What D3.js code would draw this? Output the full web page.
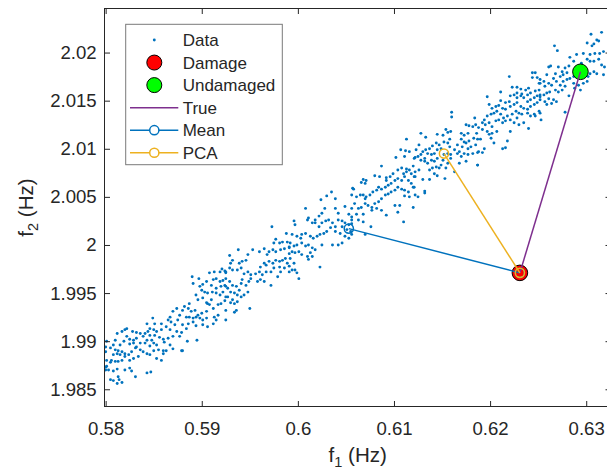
<!DOCTYPE html>
<html>
<head>
<meta charset="utf-8">
<script src="https://cdn.jsdelivr.net/npm/d3@7/dist/d3.min.js"></script>
<style>
  body { margin: 0; background: #fff; }
  text { font-family: "Liberation Sans", Arial, Helvetica, sans-serif; fill: #262626; }
</style>
</head>
<body>
<script>
var f1Data = [
  0.5849,0.5843,0.5851,0.5858,0.5846,0.5850,0.5844,0.5853,0.5858,0.5841,0.5846,0.5851,0.5856,0.5860,0.5836,0.5832,0.5828,0.5822,0.5820,0.5817,0.5812,0.5822,0.5825,0.5829,0.5832,0.5839,0.5843,0.5848,0.5850,0.5853,0.5855,0.5860,0.5846,0.5841,0.5836,0.5829,0.5825,0.5819,0.5815,0.5810,0.5808,0.5801,0.5800,0.5805,0.5810,0.5813,0.5817,0.5820,0.5824,0.5827,0.5831,0.5832,0.5836,0.5839,0.5843,0.5850,0.5846,0.5834,0.5829,0.5825,0.5820,0.5815,0.5812,0.5808,0.5806,0.5805,0.5810,0.5813,0.5817,0.5801,0.5800,0.5803,0.5808,0.5812,0.5820,0.5825,0.5827,0.5831,0.5813,0.5814,0.5817,0.5812,0.5808,0.5805,0.5801,0.5858,0.5853,0.5860,0.5843,0.5847,0.5800,0.5800,
  0.5921,0.5924,0.5919,0.5925,0.5913,0.5908,0.5912,0.5915,0.5919,0.5922,0.5925,0.5924,0.5920,0.5915,0.5910,0.5905,0.5901,0.5898,0.5897,0.5890,0.5891,0.5894,0.5900,0.5903,0.5906,0.5911,0.5915,0.5919,0.5922,0.5925,0.5924,0.5920,0.5917,0.5912,0.5908,0.5906,0.5910,0.5905,0.5900,0.5896,0.5893,0.5889,0.5886,0.5882,0.5880,0.5884,0.5887,0.5891,0.5894,0.5898,0.5901,0.5905,0.5913,0.5912,0.5915,0.5906,0.5901,0.5894,0.5891,0.5886,0.5880,0.5877,0.5875,0.5874,0.5870,0.5867,0.5865,0.5868,0.5872,0.5863,0.5867,0.5874,0.5879,0.5884,0.5877,0.5870,0.5865,0.5861,0.5867,0.5863,0.5870,0.5879,0.5880,0.5885,0.5895,0.5905,0.5901,0.5896,0.5887,0.5925,0.5925,0.5917,
  0.5973,0.5988,0.5977,0.5975,0.5981,0.5984,0.5989,0.5991,0.5986,0.5982,0.5977,0.5974,0.5970,0.5968,0.5965,0.5960,0.5953,0.5948,0.5946,0.5942,0.5939,0.5938,0.5929,0.5932,0.5930,0.5929,0.5925,0.5932,0.5937,0.5941,0.5944,0.5948,0.5951,0.5956,0.5960,0.5961,0.5965,0.5967,0.5970,0.5974,0.5977,0.5981,0.5984,0.5987,0.5991,0.5989,0.5986,0.5991,0.5981,0.5975,0.5972,0.5967,0.5963,0.5961,0.5965,0.5958,0.5951,0.5949,0.5946,0.5942,0.5941,0.5939,0.5936,0.5932,0.5929,0.5927,0.5925,0.5930,0.5934,0.5937,0.5941,0.5944,0.5948,0.5932,0.5930,0.5934,0.5937,0.5927,0.5950,0.5934,0.5936,0.5972,0.5979,0.5982,
  0.6057,0.6056,0.6035,0.6030,0.6024,0.6039,0.6028,0.6025,0.6022,0.6018,0.6008,0.5996,0.5997,0.6010,0.6011,0.6015,0.6018,0.6022,0.6025,0.6029,0.6032,0.6036,0.6039,0.6042,0.6046,0.6049,0.6053,0.6056,0.6055,0.6051,0.6046,0.6044,0.6039,0.6034,0.6030,0.6027,0.6023,0.6020,0.6016,0.6013,0.6008,0.6004,0.6003,0.5999,0.5994,0.5992,0.5996,0.5999,0.6004,0.6008,0.6011,0.6015,0.6018,0.6025,0.6036,0.6042,0.6046,0.6049,0.6053,0.6056,0.6039,0.6049,0.6053,0.6042,0.5991,0.5994,0.5997,0.6001,0.6004,0.6010,0.6013,0.6015,0.6011,0.5992,0.5996,0.5991,0.5997,0.5999,0.6001,0.5994,0.6023,
  0.6113,0.6107,0.6112,0.6116,0.6122,0.6102,0.6111,0.6087,0.6108,0.6113,0.6116,0.6120,0.6122,0.6118,0.6113,0.6110,0.6104,0.6099,0.6096,0.6092,0.6085,0.6080,0.6068,0.6066,0.6070,0.6071,0.6058,0.6061,0.6065,0.6068,0.6070,0.6071,0.6075,0.6078,0.6082,0.6084,0.6087,0.6091,0.6092,0.6094,0.6097,0.6101,0.6104,0.6108,0.6111,0.6115,0.6118,0.6122,0.6120,0.6115,0.6111,0.6108,0.6104,0.6101,0.6097,0.6094,0.6091,0.6087,0.6084,0.6080,0.6077,0.6073,0.6070,0.6066,0.6063,0.6059,0.6056,0.6061,0.6068,0.6077,0.6082,0.6087,0.6092,0.6101,0.6106,0.6104,0.6110,0.6111,0.6116,0.6120,0.6122,0.6056,0.6068,0.6076,0.6070,0.6056,0.6063,
  0.6160,0.6160,0.6184,0.6175,0.6178,0.6182,0.6185,0.6154,0.6156,0.6159,0.6128,0.6133,0.6145,0.6151,0.6170,0.6173,0.6177,0.6158,0.6170,0.6173,0.6175,0.6178,0.6183,0.6186,0.6166,0.6171,0.6177,0.6180,0.6185,0.6187,0.6182,0.6177,0.6173,0.6168,0.6163,0.6158,0.6156,0.6152,0.6147,0.6144,0.6140,0.6137,0.6133,0.6130,0.6126,0.6123,0.6125,0.6121,0.6128,0.6132,0.6135,0.6139,0.6142,0.6145,0.6149,0.6152,0.6156,0.6159,0.6156,0.6151,0.6149,0.6145,0.6142,0.6139,0.6135,0.6132,0.6128,0.6126,0.6137,0.6140,0.6144,0.6147,0.6154,0.6163,0.6168,0.6175,0.6187,0.6159,0.6121,0.6130,0.6137,0.6145,0.6153,0.6121,0.6132,0.6132,0.6125,0.6166,0.6170,0.6142,
  0.6244,0.6220,0.6247,0.6249,0.6244,0.6252,0.6251,0.6223,0.6232,0.6237,0.6240,0.6211,0.6228,0.6233,0.6239,0.6242,0.6247,0.6251,0.6252,0.6249,0.6246,0.6242,0.6239,0.6235,0.6232,0.6228,0.6225,0.6221,0.6220,0.6216,0.6211,0.6197,0.6199,0.6202,0.6206,0.6209,0.6213,0.6216,0.6221,0.6225,0.6228,0.6232,0.6235,0.6239,0.6242,0.6246,0.6249,0.6252,0.6251,0.6246,0.6242,0.6239,0.6233,0.6230,0.6227,0.6223,0.6218,0.6214,0.6211,0.6207,0.6204,0.6201,0.6197,0.6194,0.6192,0.6195,0.6199,0.6202,0.6206,0.6209,0.6213,0.6216,0.6221,0.6225,0.6230,0.6235,0.6228,0.6240,0.6247,0.6252,0.6188,0.6192,0.6197,0.6202,0.6207,0.6201,0.6204,0.6199,0.6190,0.6187,0.6188,0.6192,0.6194,0.6213,0.6216,0.6218,0.6221,0.6187,0.6228,
  0.6305,0.6316,0.6311,0.6313,0.6301,0.6306,0.6308,0.6267,0.6270,0.6283,0.6297,0.6304,0.6309,0.6314,0.6318,0.6290,0.6301,0.6304,0.6308,0.6313,0.6316,0.6319,0.6295,0.6287,0.6282,0.6263,0.6261,0.6271,0.6275,0.6276,0.6280,0.6278,0.6273,0.6268,0.6266,0.6259,0.6256,0.6252,0.6257,0.6261,0.6264,0.6269,0.6273,0.6276,0.6280,0.6283,0.6287,0.6302,0.6304,0.6308,0.6311,0.6318,0.6297,0.6292,0.6294,0.6288,0.6287,0.6278,0.6275,0.6271,0.6268,0.6262,0.6259,0.6256,0.6252,0.6261,0.6266,0.6257,0.6259,0.6264,0.6269,0.6282,0.6301,0.6278,0.6253
];
var f2Data = [
  1.9924,1.9918,1.9918,1.9918,1.9913,1.9912,1.9910,1.9910,1.9912,1.9908,1.9906,1.9906,1.9904,1.9902,1.9908,1.9909,1.9910,1.9913,1.9912,1.9910,1.9908,1.9905,1.9902,1.9901,1.9903,1.9905,1.9901,1.9901,1.9898,1.9896,1.9891,1.9890,1.9895,1.9898,1.9898,1.9898,1.9897,1.9900,1.9896,1.9901,1.9896,1.9900,1.9894,1.9893,1.9891,1.9890,1.9889,1.9887,1.9886,1.9889,1.9893,1.9894,1.9891,1.9889,1.9887,1.9890,1.9886,1.9884,1.9882,1.9880,1.9884,1.9886,1.9887,1.9886,1.9880,1.9878,1.9879,1.9879,1.9880,1.9880,1.9873,1.9870,1.9869,1.9871,1.9870,1.9872,1.9869,1.9863,1.9863,1.9860,1.9857,1.9856,1.9859,1.9860,1.9874,1.9880,1.9882,1.9887,1.9867,1.9868,1.9889,1.9870,
  1.9975,1.9973,1.9972,1.9971,1.9972,1.9971,1.9964,1.9965,1.9962,1.9963,1.9965,1.9958,1.9957,1.9955,1.9958,1.9962,1.9959,1.9957,1.9965,1.9967,1.9960,1.9948,1.9953,1.9951,1.9950,1.9951,1.9950,1.9948,1.9951,1.9946,1.9942,1.9939,1.9938,1.9934,1.9938,1.9939,1.9943,1.9931,1.9929,1.9927,1.9932,1.9931,1.9934,1.9936,1.9932,1.9925,1.9925,1.9924,1.9925,1.9924,1.9922,1.9924,1.9925,1.9918,1.9922,1.9915,1.9917,1.9916,1.9920,1.9918,1.9917,1.9927,1.9922,1.9934,1.9931,1.9925,1.9922,1.9920,1.9917,1.9915,1.9912,1.9910,1.9909,1.9913,1.9905,1.9905,1.9903,1.9899,1.9896,1.9890,1.9892,1.9890,1.9890,1.9900,1.9901,1.9940,1.9945,1.9943,1.9939,1.9932,1.9922,1.9927,
  2.0019,2.0012,2.0006,2.0002,2.0002,2.0003,2.0003,1.9998,1.9996,1.9995,1.9993,1.9995,1.9993,1.9990,1.9996,1.9993,1.9995,1.9990,1.9984,1.9983,1.9981,1.9995,1.9989,1.9984,1.9981,1.9976,1.9972,1.9974,1.9974,1.9976,1.9970,1.9972,1.9969,1.9970,1.9972,1.9977,1.9981,1.9979,1.9983,1.9981,1.9984,1.9983,1.9984,1.9986,1.9991,1.9981,1.9976,1.9972,1.9977,1.9976,1.9972,1.9972,1.9969,1.9964,1.9962,1.9962,1.9965,1.9962,1.9958,1.9964,1.9960,1.9953,1.9957,1.9958,1.9962,1.9955,1.9957,1.9951,1.9950,1.9948,1.9946,1.9948,1.9951,1.9943,1.9940,1.9939,1.9941,1.9946,1.9934,1.9930,1.9932,1.9958,1.9967,1.9972,
  2.0059,2.0052,2.0055,2.0051,2.0047,2.0048,2.0038,2.0033,2.0030,2.0026,2.0038,2.0025,2.0021,2.0026,2.0028,2.0023,2.0023,2.0019,2.0023,2.0025,2.0026,2.0023,2.0019,2.0026,2.0025,2.0023,2.0021,2.0026,2.0014,2.0016,2.0019,2.0012,2.0014,2.0018,2.0014,2.0012,2.0011,2.0009,2.0007,2.0009,2.0012,2.0011,2.0007,2.0009,2.0011,2.0002,1.9999,2.0000,2.0002,1.9999,2.0000,1.9997,1.9995,2.0000,2.0000,2.0000,2.0002,2.0009,2.0007,2.0011,2.0038,2.0040,2.0032,2.0033,1.9997,1.9993,1.9992,1.9993,1.9990,1.9988,1.9992,1.9988,1.9985,1.9986,1.9981,1.9978,1.9974,1.9971,1.9965,1.9974,1.9977,
  2.0110,2.0099,2.0098,2.0097,2.0091,2.0091,2.0092,2.0082,2.0080,2.0079,2.0078,2.0082,2.0076,2.0074,2.0076,2.0074,2.0078,2.0074,2.0071,2.0070,2.0071,2.0072,2.0068,2.0065,2.0064,2.0067,2.0058,2.0050,2.0052,2.0052,2.0048,2.0050,2.0052,2.0055,2.0057,2.0060,2.0058,2.0060,2.0067,2.0062,2.0064,2.0067,2.0069,2.0067,2.0071,2.0067,2.0064,2.0071,2.0060,2.0055,2.0057,2.0058,2.0060,2.0057,2.0055,2.0053,2.0052,2.0048,2.0045,2.0043,2.0039,2.0041,2.0043,2.0039,2.0038,2.0043,2.0038,2.0032,2.0032,2.0036,2.0038,2.0036,2.0031,2.0041,2.0041,2.0034,2.0024,2.0051,2.0050,2.0039,2.0052,2.0022,2.0024,2.0019,2.0011,2.0029,2.0026,
  2.0138,2.0133,2.0132,2.0125,2.0124,2.0123,2.0125,2.0120,2.0117,2.0118,2.0116,2.0112,2.0115,2.0114,2.0116,2.0114,2.0116,2.0110,2.0110,2.0107,2.0106,2.0108,2.0111,2.0116,2.0104,2.0102,2.0100,2.0102,2.0104,2.0096,2.0095,2.0094,2.0095,2.0097,2.0099,2.0102,2.0106,2.0107,2.0104,2.0106,2.0103,2.0100,2.0099,2.0097,2.0104,2.0099,2.0092,2.0090,2.0094,2.0090,2.0095,2.0094,2.0095,2.0099,2.0100,2.0094,2.0095,2.0090,2.0085,2.0088,2.0083,2.0090,2.0087,2.0088,2.0085,2.0087,2.0088,2.0078,2.0078,2.0080,2.0081,2.0080,2.0080,2.0076,2.0085,2.0087,2.0083,2.0094,2.0071,2.0068,2.0068,2.0072,2.0069,2.0060,2.0056,2.0054,2.0050,2.0095,2.0092,2.0074,
  2.0179,2.0175,2.0179,2.0174,2.0174,2.0172,2.0168,2.0164,2.0162,2.0161,2.0163,2.0159,2.0158,2.0157,2.0156,2.0158,2.0160,2.0161,2.0156,2.0155,2.0153,2.0151,2.0149,2.0153,2.0155,2.0153,2.0156,2.0155,2.0149,2.0148,2.0150,2.0154,2.0146,2.0142,2.0144,2.0145,2.0142,2.0141,2.0144,2.0146,2.0148,2.0144,2.0142,2.0141,2.0144,2.0146,2.0148,2.0151,2.0139,2.0136,2.0134,2.0137,2.0136,2.0137,2.0139,2.0136,2.0134,2.0132,2.0136,2.0139,2.0137,2.0136,2.0134,2.0130,2.0127,2.0125,2.0127,2.0123,2.0129,2.0130,2.0127,2.0129,2.0130,2.0127,2.0125,2.0127,2.0132,2.0121,2.0134,2.0137,2.0122,2.0120,2.0118,2.0116,2.0118,2.0111,2.0106,2.0115,2.0110,2.0110,2.0097,2.0096,2.0100,2.0100,2.0101,2.0108,2.0118,2.0083,2.0164,
  2.0219,2.0221,2.0213,2.0212,2.0210,2.0207,2.0209,2.0207,2.0202,2.0195,2.0199,2.0198,2.0199,2.0199,2.0201,2.0198,2.0193,2.0191,2.0191,2.0193,2.0187,2.0185,2.0189,2.0191,2.0186,2.0186,2.0185,2.0185,2.0180,2.0177,2.0179,2.0184,2.0175,2.0178,2.0173,2.0177,2.0170,2.0168,2.0165,2.0168,2.0166,2.0170,2.0166,2.0170,2.0172,2.0173,2.0175,2.0175,2.0178,2.0180,2.0178,2.0177,2.0168,2.0166,2.0161,2.0163,2.0168,2.0165,2.0161,2.0159,2.0161,2.0159,2.0158,2.0156,2.0154,2.0152,2.0151,2.0149,2.0146,2.0147,2.0149,2.0155,2.0170,2.0138,2.0130
];

// reference states and estimates [f1, f2]
var damagePt = [0.6231, 1.9971];
var undamagedPt = [0.6294, 2.0180];
var meanPt = [0.6053, 2.0017];
var pcaPt = [0.6152, 2.0095];

var xTicks = [0.58, 0.59, 0.6, 0.61, 0.62, 0.63];
var yTicks = [1.985, 1.99, 1.995, 2, 2.005, 2.01, 2.015, 2.02];
var legendLabels = ["Data", "Damage", "Undamaged", "True", "Mean", "PCA"];

var blue = "#0072BD", yellow = "#EDB120", purple = "#7E2F8E";
var width = 607, height = 470;
var box = { left: 104.5, top: 8.5, right: 611, bottom: 406.5 };
var tickLen = 5.5;

var svg = d3.select("body").append("svg").attr("width", width).attr("height", height);

var x = d3.scaleLinear().domain([0.57988, 0.63258]).range([box.left, box.right]);
var y = d3.scaleLinear().domain([1.98321, 2.02458]).range([box.bottom, box.top]);
var fmt = d3.format("~g");

svg.append("defs").append("clipPath").attr("id", "plotclip")
    .append("rect").attr("x", box.left).attr("y", box.top)
    .attr("width", box.right - box.left).attr("height", box.bottom - box.top);

var plot = svg.append("g").attr("clip-path", "url(#plotclip)");

// scatter of measurements
plot.selectAll("circle.pt").data(d3.range(f1Data.length)).enter().append("circle")
    .attr("class", "pt")
    .attr("cx", function (i) { return x(f1Data[i]); })
    .attr("cy", function (i) { return y(f2Data[i]); })
    .attr("r", 1.45)
    .style("fill", blue);

// big markers
plot.append("circle").attr("cx", x(damagePt[0])).attr("cy", y(damagePt[1])).attr("r", 7.8)
    .style("fill", "#ff0000").style("stroke", "#000").style("stroke-width", 1);
plot.append("circle").attr("cx", x(undamagedPt[0])).attr("cy", y(undamagedPt[1])).attr("r", 7.8)
    .style("fill", "#00ff00").style("stroke", "#000").style("stroke-width", 1);

var line = d3.line().x(function (d) { return x(d[0]); }).y(function (d) { return y(d[1]); });

function drawSeg(pts, color, markers) {
    plot.append("path").attr("d", line(pts)).style("fill", "none")
        .style("stroke", color).style("stroke-width", 1.5);
    if (markers) {
        plot.selectAll(null).data(pts).enter().append("circle")
            .attr("cx", function (d) { return x(d[0]); })
            .attr("cy", function (d) { return y(d[1]); })
            .attr("r", 4.6)
            .style("fill", "none").style("stroke", color).style("stroke-width", 1.5);
    }
}
drawSeg([damagePt, undamagedPt], purple, false);
drawSeg([meanPt, damagePt], blue, true);
drawSeg([pcaPt, damagePt], yellow, true);

// axes
var axCol = "#262626";
var gx = svg.append("g").attr("transform", "translate(0," + box.bottom + ")")
    .call(d3.axisBottom(x).tickValues(xTicks).tickFormat(fmt).tickSizeInner(-tickLen).tickSizeOuter(0).tickPadding(15.3));
var gxt = svg.append("g").attr("transform", "translate(0," + box.top + ")")
    .call(d3.axisTop(x).tickValues(xTicks).tickFormat("").tickSizeInner(-tickLen).tickSizeOuter(0));
var gy = svg.append("g").attr("transform", "translate(" + box.left + ",0)")
    .call(d3.axisLeft(y).tickValues(yTicks).tickFormat(fmt).tickSizeInner(-tickLen).tickSizeOuter(0).tickPadding(7.8));
var gyr = svg.append("g").attr("transform", "translate(" + box.right + ",0)")
    .call(d3.axisRight(y).tickValues(yTicks).tickFormat("").tickSizeInner(-tickLen).tickSizeOuter(0));

[gx, gxt, gy, gyr].forEach(function (g) {
    g.select(".domain").remove();
    g.selectAll(".tick line").attr("stroke", axCol).attr("stroke-width", 1);
    g.selectAll("text").style("font-size", "18.6px").style("font-family", null).attr("fill", axCol);
});

svg.append("rect").attr("x", box.left).attr("y", box.top)
    .attr("width", box.right - box.left).attr("height", box.bottom - box.top)
    .style("fill", "none").style("stroke", axCol).style("stroke-width", 1);

// axis labels
var xl = svg.append("text").attr("x", (box.left + box.right) / 2).attr("y", 462)
    .attr("text-anchor", "middle").style("font-size", "20.6px");
xl.append("tspan").text("f");
xl.append("tspan").attr("dy", 5).style("font-size", "14.5px").text("1");
xl.append("tspan").attr("dy", -5).text(" (Hz)");

var yl = svg.append("text").attr("transform", "translate(33," + ((box.top + box.bottom) / 2) + ") rotate(-90)")
    .attr("text-anchor", "middle").style("font-size", "20.6px");
yl.append("tspan").text("f");
yl.append("tspan").attr("dy", 5).style("font-size", "14.5px").text("2");
yl.append("tspan").attr("dy", -5).text(" (Hz)");

// legend
var lg = { x: 125.7, y: 24.3, w: 156.6, h: 140.4, row0: 40, step: 22.55, icon: 154.3, text: 182.7 };
var legend = svg.append("g");
legend.append("rect").attr("x", lg.x).attr("y", lg.y).attr("width", lg.w).attr("height", lg.h)
    .style("fill", "#fff").style("stroke", "#7a7a7a").style("stroke-width", 1);

legendLabels.forEach(function (name, i) {
    var cy = lg.row0 + i * lg.step;
    if (name === "Data") {
        legend.append("circle").attr("cx", lg.icon).attr("cy", cy).attr("r", 1.45).style("fill", blue);
    } else if (name === "Damage" || name === "Undamaged") {
        legend.append("circle").attr("cx", lg.icon).attr("cy", cy).attr("r", 7.5)
            .style("fill", name === "Damage" ? "#ff0000" : "#00ff00").style("stroke", "#000").style("stroke-width", 1);
    } else {
        var c = name === "True" ? purple : (name === "Mean" ? blue : yellow);
        legend.append("line").attr("x1", 130).attr("x2", 178.3).attr("y1", cy).attr("y2", cy)
            .style("stroke", c).style("stroke-width", 1.5);
        if (name !== "True") {
            legend.append("circle").attr("cx", lg.icon).attr("cy", cy).attr("r", 4.6)
                .style("fill", "#fff").style("stroke", c).style("stroke-width", 1.5);
        }
    }
    legend.append("text").attr("x", lg.text).attr("y", cy + 6.1).style("font-size", "17px").text(name);
});
</script>
</body>
</html>
